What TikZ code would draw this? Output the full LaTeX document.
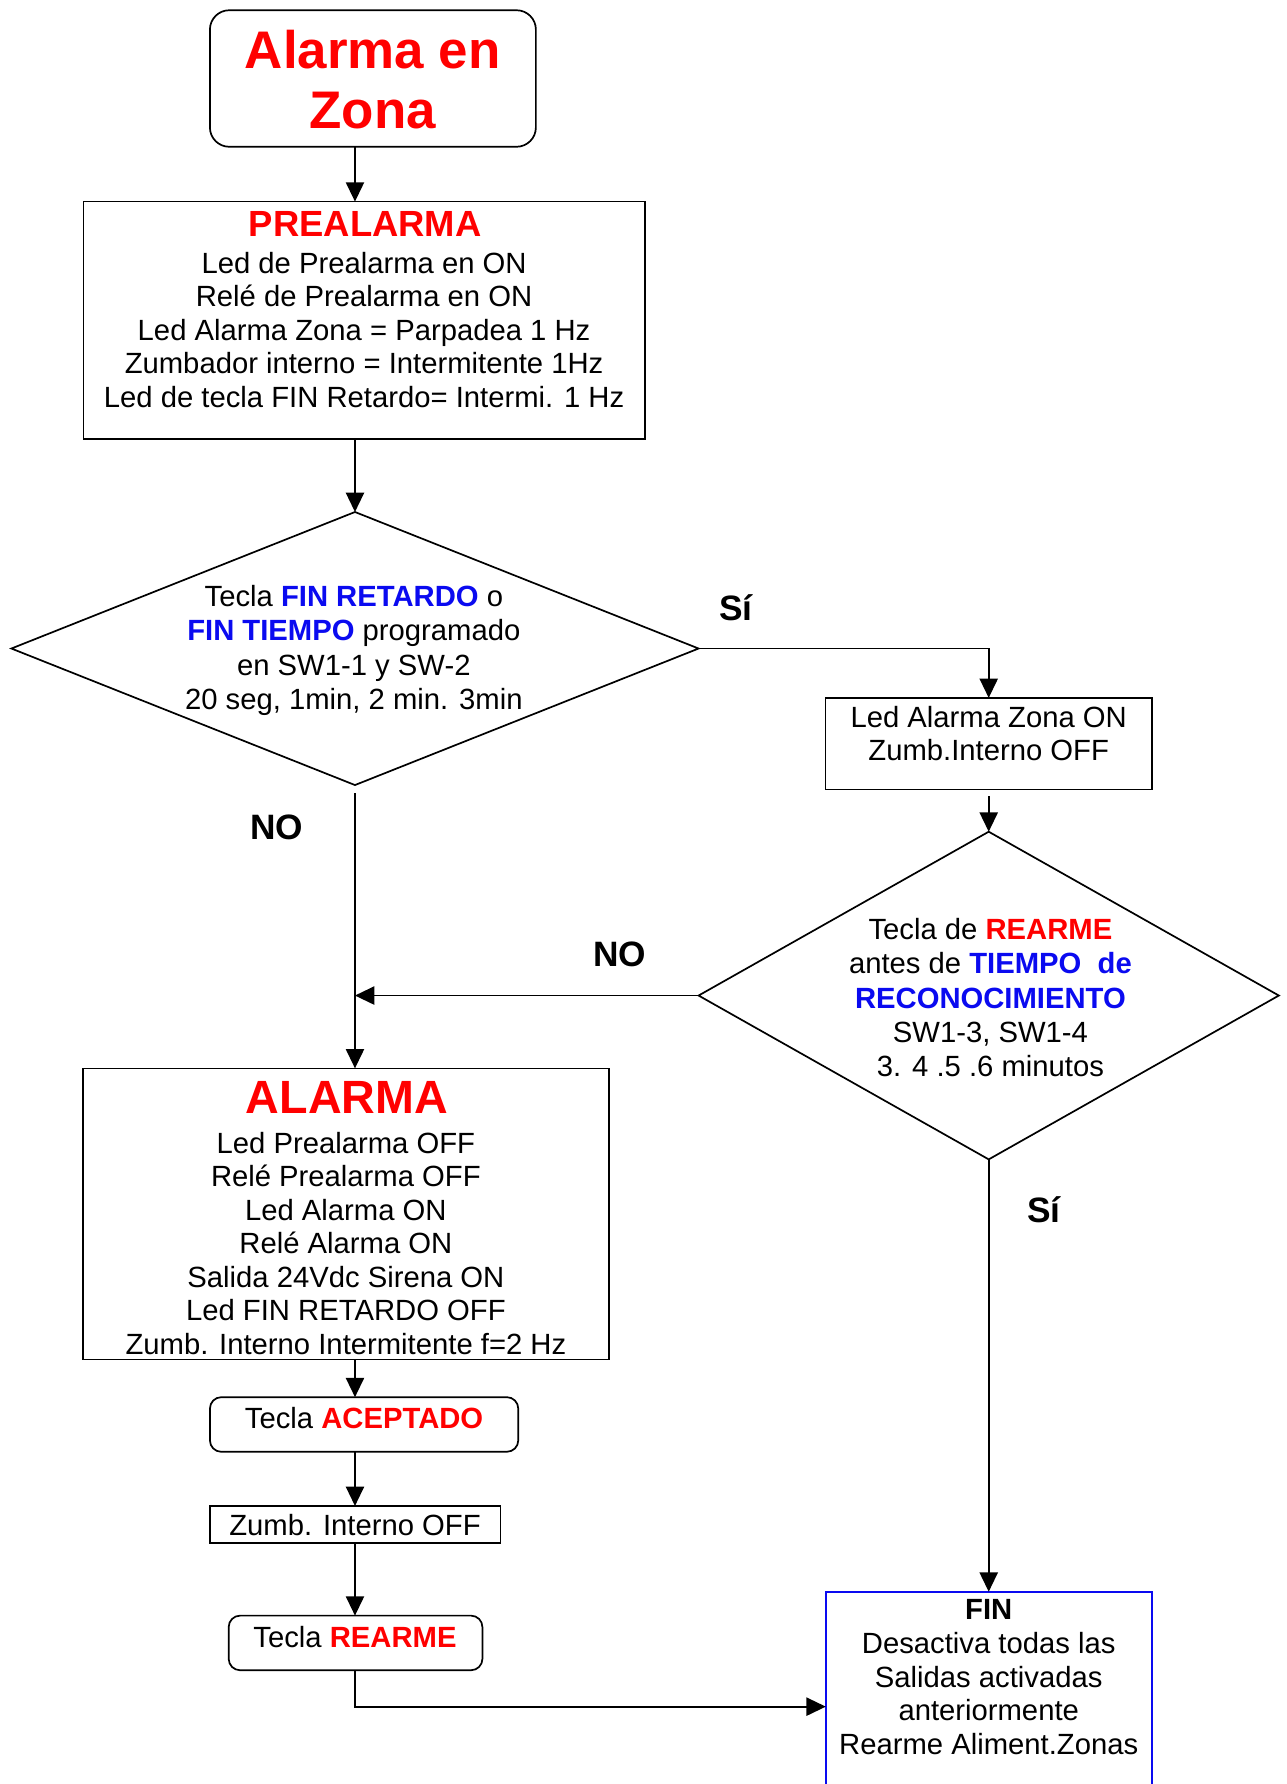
\documentclass[tikz,border=0pt]{standalone}
\usepackage{fontspec}
\setmainfont{Liberation Sans}
\usetikzlibrary{arrows.meta,shapes.geometric}
\definecolor{myred}{RGB}{255,0,0}
\definecolor{myblue}{RGB}{10,10,240}
\newcommand{\rd}[1]{\textcolor{myred}{\bfseries #1}}
\newcommand{\bl}[1]{\textcolor{myblue}{\bfseries #1}}
\begin{document}
\begin{tikzpicture}[x=1pt,y=-1pt,
  box/.style={draw, line width=1.5pt, inner sep=0pt, outer sep=0pt},
  rbox/.style={box, rounded corners=10pt},
  dia/.style={draw, diamond, line width=1.5pt, inner sep=0pt, outer sep=0pt},
  arr/.style={line width=1.5pt, -{Triangle[length=17pt,width=16pt]}},
  body/.style={inner sep=0pt, align=center, anchor=base, font=\fontsize{25.7}{29.5}\selectfont},
  lbl/.style={inner sep=0pt, anchor=base, font=\fontsize{31}{36}\selectfont\bfseries}
]
\useasboundingbox (0,0) rectangle (1131,1568);
\fill[white] (0,0) rectangle (1131,1568);

% shapes
\node[rbox, rounded corners=17pt, minimum width=286.5pt, minimum height=120pt] (start) at (327.75,69) {};
\node[box, minimum width=493.6pt, minimum height=208.6pt] (pre) at (320.2,281.5) {};
\node[dia, minimum width=604pt, minimum height=240pt] (d1) at (312,570) {};
\node[box, minimum width=287pt, minimum height=80.6pt] (ledz) at (869,653.7) {};
\node[dia, minimum width=510pt, minimum height=288pt] (d2) at (869,875) {};
\node[box, minimum width=462pt, minimum height=256pt] (alarm) at (304,1067) {};
\node[rbox, minimum width=271pt, minimum height=48pt] (acep) at (320,1252) {};
\node[box, minimum width=255.4pt, minimum height=32.4pt] (zumb) at (312.3,1339.8) {};
\node[rbox, minimum width=223pt, minimum height=48pt] (rear) at (312.5,1444) {};
\node[box, draw=myblue, minimum width=286.4pt, minimum height=202pt] (fin) at (869,1500) {};

% texts (base anchor = baseline of the last line)
\node[body, font=\fontsize{46.5}{52.6}\selectfont\bfseries, text=myred] (tstart) at (327.7,112.6) {Alarma en\\Zona};
\node[body, font=\fontsize{32}{36}\selectfont\bfseries, text=myred] (tpreh) at (321,208) {PREALARMA};
\node[body] (tpre) at (320,358) {Led de Prealarma en ON\\Relé de Prealarma en ON\\Led Alarma Zona = Parpadea 1 Hz\\Zumbador interno = Intermitente 1Hz\\Led de tecla FIN Retardo= Intermi. 1 Hz};
\node[body, font=\fontsize{25.7}{30.2}\selectfont] (td1) at (311,623.6) {Tecla \bl{FIN RETARDO} o\\\bl{FIN TIEMPO} programado\\en SW1-1 y SW-2\\20 seg, 1min, 2 min. 3min};
\node[body, font=\fontsize{25.7}{28.8}\selectfont] (tledz) at (869,668.3) {Led Alarma Zona ON\\Zumb.Interno OFF};
\node[body, font=\fontsize{25.7}{30}\selectfont] (td2) at (870.5,946) {Tecla de \rd{REARME}\\antes de \bl{TIEMPO\ \ de}\\\bl{RECONOCIMIENTO}\\SW1-3, SW1-4\\3. 4 .5 .6 minutos};
\node[body, font=\fontsize{41}{46}\selectfont\bfseries, text=myred] (talh) at (305,979) {ALARMA};
\node[body] (tal) at (304,1190.5) {Led Prealarma OFF\\Relé Prealarma OFF\\Led Alarma ON\\Relé Alarma ON\\Salida 24Vdc Sirena ON\\Led FIN RETARDO OFF\\Zumb. Interno Intermitente f=2 Hz};
\node[body] (tacep) at (320,1255.5) {Tecla \rd{ACEPTADO}};
\node[body] (tzumb) at (312,1349.6) {Zumb. Interno OFF};
\node[body] (trear) at (312,1448.4) {Tecla \rd{REARME}};
\node[body, font=\fontsize{25.7}{29.6}\selectfont] (tfin) at (869,1542) {\textbf{FIN}\\Desactiva todas las\\Salidas activadas\\anteriormente\\Rearme Aliment.Zonas};

% labels
\node[lbl] (si1) at (646.7,545.5) {Sí};
\node[lbl] (no1) at (243,738) {NO};
\node[lbl] (no2) at (544.5,849.5) {NO};
\node[lbl] (si2) at (917.4,1074.2) {Sí};

% connectors
\draw[arr] (start.south -| d1.north) -- (pre.north -| d1.north);
\draw[arr] (pre.south -| d1.north) -- (d1.north);
\draw[arr] (d1.east) -| (ledz.north);
\draw[arr] ([yshift=-6pt]ledz.south) -- (d2.north);
\draw[arr] ([yshift=-7pt]d1.south) -- (alarm.north -| d1.south);
\draw[arr] (d2.west) -- (d2.west -| d1.south);
\draw[arr] (alarm.south -| d1.south) -- (acep.north -| d1.south);
\draw[arr] (acep.south -| d1.south) -- (zumb.north -| d1.south);
\draw[arr] (zumb.south -| d1.south) -- (rear.north -| d1.south);
\draw[arr] (rear.south -| d1.south) |- (fin.west);
\draw[arr] (d2.south) -- (fin.north);
\end{tikzpicture}
\end{document}
